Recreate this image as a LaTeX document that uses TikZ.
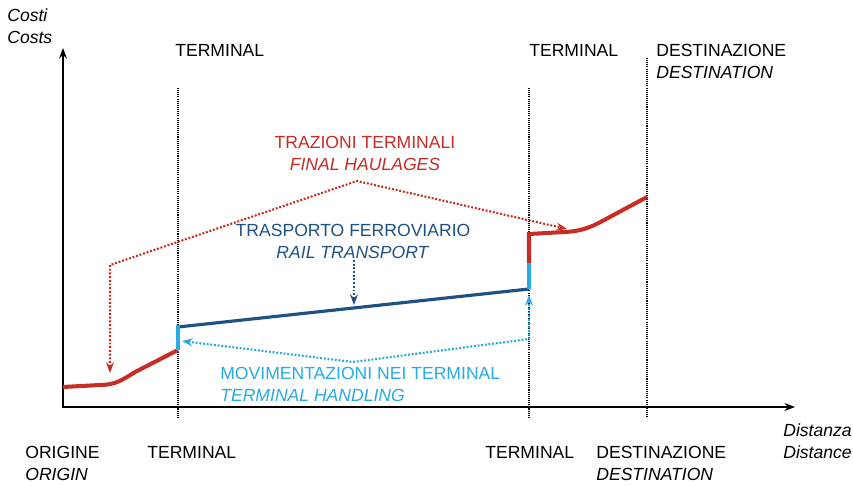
\documentclass[tikz,border=0pt]{standalone}
\usepackage{fontspec}
\setmainfont{Liberation Sans}
\usetikzlibrary{arrows.meta}
\definecolor{haulred}{RGB}{200,44,36}
\definecolor{raildark}{RGB}{30,82,132}
\definecolor{handlight}{RGB}{40,170,226}
\begin{document}
\begin{tikzpicture}[x=0.02cm, y=-0.02cm,
    every node/.style={inner sep=0pt, font=\fontsize{10}{12.5}\selectfont},
    axisline/.style={line width=1.2pt, {Stealth[length=6pt,width=4.5pt]}-{Stealth[length=6pt,width=4.5pt]}},
    guide/.style={line width=1pt, black, dash pattern=on 0.6pt off 0.6pt},
    haulline/.style={line width=2.3pt, haulred},
    railline/.style={line width=1.8pt, raildark},
    handline/.style={line width=2.3pt, handlight},
    tipped/.style={line width=1.2pt, dash pattern=on 1.1pt off 1pt, arrows={-Stealth[length=6pt,width=4.5pt]}}]
    \useasboundingbox (0,0) rectangle (853,486);

    % Axes
    \coordinate (O) at (63,407);
    \coordinate (ytop) at (63,48);
    \coordinate (xend) at (795,407);
    \draw[axisline] (ytop) -- (O) -- (xend);
    \node[anchor=north west, align=left, font=\fontsize{10}{12.5}\selectfont\itshape] (costs) at (7,8) {Costi\\Costs};
    \node[anchor=north west, align=left, font=\fontsize{10}{12.5}\selectfont\itshape] (dist) at (783,423) {Distanza\\Distance};

    % Terminals and destination
    \draw[guide] (178,88) -- (178,418);
    \draw[guide] (529,88) -- (529,418);
    \draw[guide] (647,58) -- (647,418);
    \node[anchor=north west] (termA) at (175,44) {TERMINAL};
    \node[anchor=north west] (termB) at (529,44) {TERMINAL};
    \node[anchor=north west, align=left] (dest) at (656,44) {DESTINAZIONE\\\textit{DESTINATION}};
    \node[anchor=north west, align=left] (orig) at (25,446) {ORIGINE\\\textit{ORIGIN}};
    \node[anchor=north west] (termC) at (147,446) {TERMINAL};
    \node[anchor=north west] (termD) at (485,446) {TERMINAL};
    \node[anchor=north west, align=left] (destB) at (596,446) {DESTINAZIONE\\\textit{DESTINATION}};

    % Cost curve
    \coordinate (c0) at (63,387);
    \coordinate (c1) at (178,350);
    \coordinate (c2) at (178,327);
    \coordinate (c3) at (529,289);
    \coordinate (c4) at (529,263);
    \coordinate (c5) at (529,234);
    \coordinate (c6) at (647,197);
    \draw[haulline] (c0) -- (100,385) .. controls (120,385) and (128,375) .. (140,369.5) -- (c1);
    \draw[railline] (c2) -- (c3);
    \draw[handline] (c1) -- (178,325.5);
    \draw[handline] (c3) -- (c4);
    \draw[haulline] (c4) -- (c5) -- (565,232) .. controls (585,231) and (595,225) .. (608,218) -- (c6);

    % Final haulages
    \node[anchor=north, align=center, text=haulred] (haul) at (365,136) {TRAZIONI TERMINALI\\\textit{FINAL HAULAGES}};
    \coordinate (h0) at (110,373);
    \coordinate (h1) at (110,265);
    \coordinate (h2) at (357,181);
    \coordinate (h3) at (567,229);
    \draw[tipped, haulred, arrows={Stealth[length=6pt,width=4.5pt]-Stealth[length=6pt,width=4.5pt]}] (h0) -- (h1) -- (h2) -- (h3);

    % Rail transport
    \node[anchor=north, align=center, text=raildark] (rail) at (353,224) {TRASPORTO FERROVIARIO\\\textit{RAIL TRANSPORT}};
    \coordinate (r0) at (354,260);
    \coordinate (r1) at (354,305);
    \draw[tipped, raildark] (r0) -- (r1);

    % Terminal handling
    \node[anchor=north west, align=left, text=handlight] (hand) at (220,367) {MOVIMENTAZIONI NEI TERMINAL\\\textit{TERMINAL HANDLING}};
    \coordinate (m0) at (182,341);
    \coordinate (m1) at (353,362);
    \coordinate (m2) at (529,339);
    \coordinate (m3) at (529,295);
    \draw[tipped, handlight, arrows={Stealth[length=6pt,width=4.5pt]-Stealth[length=6pt,width=4.5pt]}] (m0) -- (m1) -- (m2) -- (m3);
\end{tikzpicture}
\end{document}
